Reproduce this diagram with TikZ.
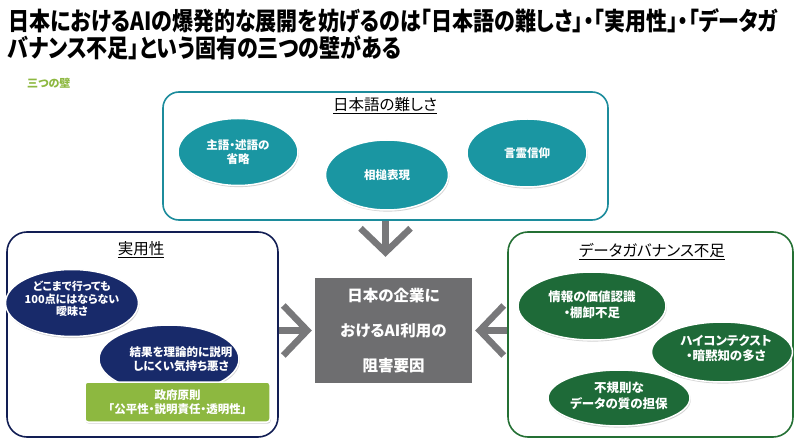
\documentclass[tikz,border=0pt]{standalone}
\usepackage{fontspec}
\setmainfont{Noto Sans CJK JP}[RawFeature=+palt]
\usepackage{graphicx}
\usetikzlibrary{shapes.geometric,arrows.meta,shadows}
\definecolor{tealfill}{RGB}{26,150,162}
\definecolor{tealline}{RGB}{28,140,156}
\definecolor{navyfill}{RGB}{24,42,106}
\definecolor{navyline}{RGB}{18,30,84}
\definecolor{greenfill}{RGB}{30,106,56}
\definecolor{greenline}{RGB}{36,112,52}
\definecolor{lightgreen}{RGB}{141,184,64}
\definecolor{coregray}{RGB}{110,110,112}
\definecolor{arrowgray}{RGB}{120,120,122}
\tikzset{
  wallbox/.style={draw, line width=1.6bp, rounded corners=20bp, inner sep=0pt, fill=white},
  walltitle/.style={inner sep=0pt, font=\fontsize{15.5bp}{18bp}\selectfont},
  oval/.style={ellipse, draw=white, line width=1.5bp, inner sep=0pt,
    drop shadow={shadow xshift=0.8bp, shadow yshift=-1.6bp, opacity=0.35}},
  ovaltext/.style={inner sep=0pt, text=white, align=center,
    font=\bfseries\fontsize{11.5bp}{14bp}\selectfont},
  chev/.style={draw=arrowgray, line width=6.5bp, -{Straight Barb[length=24bp,width=50bp]}},
}
\begin{document}
\begin{tikzpicture}[x=1bp,y=-1bp]
\useasboundingbox (0,0) rectangle (800,448);
\fill[white] (0,0) rectangle (800,448);

% title
\node[anchor=west, inner sep=0pt, font=\bfseries\fontsize{25bp}{28bp}\selectfont] (title1) at (8,21)
  {\scalebox{0.84}[1]{日本におけるAIの爆発的な展開を妨げるのは「日本語の難しさ」・「実用性」・「データガ}};
\node[anchor=west, inner sep=0pt, font=\bfseries\fontsize{25bp}{28bp}\selectfont] (title2) at (8,48)
  {\scalebox{0.84}[1]{バナンス不足」という固有の三つの壁がある}};
\node[anchor=west, inner sep=0pt, text=lightgreen, font=\bfseries\fontsize{11bp}{13bp}\selectfont] (sub) at (27,83) {三つの壁};

% boxes
\node[wallbox, draw=tealline, rounded corners=16bp, minimum width=445bp, minimum height=128bp] (jp) at (385.5,156) {};
\node[wallbox, draw=navyline, minimum width=271bp, minimum height=205bp] (prac) at (142.5,334.5) {};
\node[wallbox, draw=greenline, minimum width=285bp, minimum height=205bp] (data) at (650.5,334.5) {};

\node[walltitle] (jpt) at (385,106) {\underline{日本語の難しさ}};
\node[walltitle] (pract) at (141,250) {\underline{実用性}};
\node[walltitle] (datat) at (652,252) {\underline{データガバナンス不足}};

% top ellipses
\node[oval, fill=tealfill, minimum width=120bp, minimum height=67bp] (e1) at (238,152) {};
\node[ovaltext] (e1t) at (e1) {主語・述語の\\省略};
\node[oval, fill=tealfill, minimum width=123bp, minimum height=70bp] (e2) at (387,175) {};
\node[ovaltext] (e2t) at (e2) {相槌表現};
\node[oval, fill=tealfill, minimum width=120bp, minimum height=68bp] (e3) at (527,153) {};
\node[ovaltext] (e3t) at (e3) {言霊信仰};

% left ellipses
\node[oval, fill=navyfill, minimum width=133bp, minimum height=67bp] (l1) at (72,303) {};
\node[ovaltext, font=\bfseries\fontsize{11bp}{12.5bp}\selectfont] (l1t) at (72,299) {どこまで行っても\\100点にはならない\\曖昧さ};
\node[oval, fill=navyfill, minimum width=140bp, minimum height=68bp] (l2) at (169,359) {};
\node[ovaltext, font=\bfseries\fontsize{11.5bp}{14bp}\selectfont] (l2t) at (181,359) {結果を理論的に説明\\しにくい気持ち悪さ};
\node[draw=white, line width=1.5bp, fill=lightgreen, rounded corners=3bp, minimum width=185bp, minimum height=40bp,
  drop shadow={shadow xshift=0.8bp, shadow yshift=-1.6bp, opacity=0.35}] (gov) at (177.5,402) {};
\node[ovaltext] (govt) at (gov) {政府原則\\「公平性・説明責任・透明性」};

% right ellipses
\node[oval, fill=greenfill, minimum width=148bp, minimum height=68bp] (r1) at (592,306) {};
\node[ovaltext, font=\bfseries\fontsize{12.5bp}{16bp}\selectfont] (r1t) at (592,305) {情報の価値認識\\・棚卸不足};
\node[oval, fill=greenfill, minimum width=141bp, minimum height=60bp] (r2) at (722,352) {};
\node[ovaltext, font=\bfseries\fontsize{12.5bp}{15bp}\selectfont] (r2t) at (726,348) {ハイコンテクスト\\・暗黙知の多さ};
\node[oval, fill=greenfill, minimum width=142bp, minimum height=56bp] (r3) at (619,398) {};
\node[ovaltext, font=\bfseries\fontsize{12.5bp}{16bp}\selectfont] (r3t) at (619,396) {不規則な\\データの質の担保};

% core
\node[fill=coregray, inner sep=0pt, minimum width=157bp, minimum height=105bp, text=white, align=center,
  font=\bfseries\fontsize{15.5bp}{35bp}\selectfont] (core) at (393.5,330.5) {日本の企業に\\おけるAI利用の\\阻害要因};

% chevron arrows
\draw[chev, shorten >=21bp] (jp.south) -- (jp.south |- core.north);
\draw[chev, shorten >=3bp] (prac.east |- core.west) -- (core.west);
\draw[chev, shorten >=3bp] (data.west |- core.east) -- (core.east);
\end{tikzpicture}
\end{document}
